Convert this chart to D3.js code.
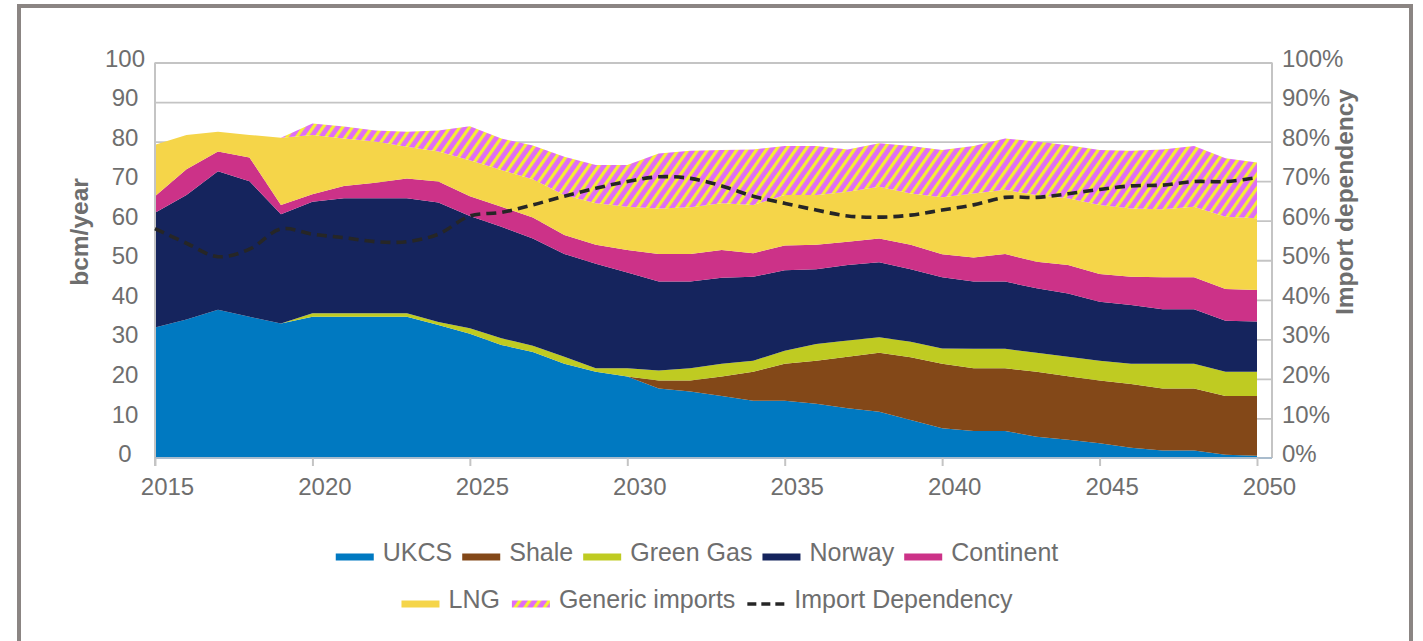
<!DOCTYPE html>
<html>
<head>
<meta charset="utf-8">
<script src="https://cdn.jsdelivr.net/npm/d3@7"></script>
<style>
  html, body { margin: 0; padding: 0; background: #ffffff; }
  svg { display: block; }
  text { font-family: "Liberation Sans", Arial, Helvetica, sans-serif; fill: #6e6e6e; }
</style>
</head>
<body>
<svg id="chart" width="1423" height="641"></svg>
<script>
// Gas supply by source, bcm/year, with import dependency (%)
const years = [2015, 2016, 2017, 2018, 2019, 2020, 2021, 2022, 2023, 2024,
               2025, 2026, 2027, 2028, 2029, 2030, 2031, 2032, 2033, 2034,
               2035, 2036, 2037, 2038, 2039, 2040, 2041, 2042, 2043, 2044,
               2045, 2046, 2047, 2048, 2049, 2050];

const ukcs = [33, 35, 37.5, 35.7, 34, 35.7, 35.7, 35.7, 35.7, 33.6,
              31.4, 28.6, 26.8, 23.8, 21.8, 20.6, 17.6, 16.8, 15.7, 14.5,
              14.5, 13.7, 12.6, 11.7, 9.6, 7.5, 6.8, 6.8, 5.4, 4.6,
              3.7, 2.6, 1.9, 1.9, 0.8, 0.6];

const shale = [0, 0, 0, 0, 0, 0, 0, 0, 0, 0,
               0, 0, 0, 0, 0, 0, 2, 2.8, 4.9, 7.3,
               9.3, 10.9, 13, 14.9, 15.9, 16.3, 15.9, 15.9, 16.4, 16.1,
               15.9, 16.1, 15.7, 15.7, 14.9, 15.1];

const greenGas = [0, 0, 0, 0, 0, 0.9, 0.9, 0.9, 0.9, 0.8,
                  1.4, 1.7, 1.6, 1.8, 0.9, 2.1, 2.5, 3.1, 3.2, 2.8,
                  3.3, 4.2, 4.1, 3.9, 3.9, 3.9, 4.9, 4.9, 4.8, 4.9,
                  5, 5.1, 6.2, 6.2, 6.1, 6.1];

const norway = [29, 31.5, 35, 34.3, 27.6, 28.2, 29.1, 29.1, 29.1, 30.2,
                28.4, 28.2, 27.1, 26, 26.4, 24.2, 22.5, 21.9, 21.8, 21.2,
                20.4, 18.9, 19.1, 19, 18.3, 18, 17, 17, 16.3, 16,
                14.9, 14.9, 13.8, 13.8, 12.9, 12.7];

const continent = [4.2, 6.5, 5, 6, 2.4, 1.9, 3.1, 3.9, 5, 5.3,
                   5, 5, 5.3, 4.8, 4.8, 5.7, 7, 7, 7, 6,
                   6.2, 6.2, 5.9, 6, 6.2, 5.8, 6.1, 7, 6.7, 7.2,
                   7, 7.1, 8.1, 8.1, 8, 8];

const lng = [13, 8.7, 5, 5.7, 17, 15, 12, 10.4, 8, 7.6,
             9.1, 9.3, 9.7, 10.1, 10.5, 10.9, 11.5, 11.8, 11.8, 12.2,
             12.8, 12.6, 12.6, 13.1, 13, 14.4, 16.2, 16.2, 16.9, 16.9,
             17.5, 17.3, 17.2, 17.8, 18.3, 18.1];

const genericImports = [0, 0, 0, 0, 0, 2.9, 3, 2.8, 3.8, 5.3,
                        8.6, 8, 8.5, 9.7, 9.7, 10.6, 13.9, 14.3, 13.5, 14,
                        12.4, 12.4, 10.7, 11, 12, 12, 12, 13, 13.5, 13.4,
                        13.9, 14.6, 15.1, 15.4, 14.8, 14.1];

const importDependency = [58, 54.3, 50.9, 52.8, 57.9, 56.6, 55.7, 54.7, 54.7, 56.6,
                          61.2, 62.1, 64, 66.2, 68.2, 69.9, 71.1, 70.7, 68.8, 66.2,
                          64.4, 62.7, 61.2, 60.9, 61.4, 62.7, 64, 65.9, 65.9, 66.8,
                          67.9, 68.8, 69, 69.9, 69.9, 70.9];

const seriesNames = ["UKCS", "Shale", "Green Gas", "Norway", "Continent", "LNG", "Generic imports"];
const seriesValues = [ukcs, shale, greenGas, norway, continent, lng, genericImports];
const seriesColors = ["#0079c1", "#834818", "#bfcb22", "#15245d", "#cc3288", "#f5d549", "url(#hatch)"];

const leftTicks = [0, 10, 20, 30, 40, 50, 60, 70, 80, 90, 100];
const rightTicks = [0, 10, 20, 30, 40, 50, 60, 70, 80, 90, 100];
const xTicks = [2015, 2020, 2025, 2030, 2035, 2040, 2045, 2050];

// ---- layout ----
const svg = d3.select("#chart");
const plotLeft = 155, plotRight = 1272, lastX = 1257, plotTop = 62.5, plotBottom = 458;
const grid = "#c4c4c4";

const x = d3.scaleLinear().domain([2015, 2050]).range([plotLeft, lastX]);
const y = d3.scaleLinear().domain([0, 100]).range([plotBottom, plotTop]);
const yPct = d3.scaleLinear().domain([0, 100]).range([plotBottom, plotTop]);

// hatch fill for generic imports
const defs = svg.append("defs");
const pat = defs.append("pattern")
  .attr("id", "hatch")
  .attr("patternUnits", "userSpaceOnUse")
  .attr("width", 8).attr("height", 8)
  .attr("patternTransform", "rotate(35)");
pat.append("rect").attr("width", 8).attr("height", 8).attr("fill", "#df6df6");
pat.append("rect").attr("width", 3.2).attr("height", 8).attr("fill", "#f5ee33");

// outer frame
svg.append("rect")
  .attr("x", 19).attr("y", 6).attr("width", 1392).attr("height", 700)
  .attr("fill", "#ffffff").attr("stroke", "#8b8583").attr("stroke-width", 4);

// horizontal gridlines (behind the areas)
svg.append("g")
  .attr("transform", `translate(${plotLeft},0)`)
  .call(d3.axisLeft(y).tickValues(leftTicks.filter(d => d > 0))
        .tickSize(-(plotRight - plotLeft)).tickFormat(""))
  .call(g => g.select(".domain").remove())
  .call(g => g.selectAll("line").attr("stroke", grid).attr("stroke-width", 1.8));

// stacked areas
const rows = years.map((yr, i) => {
  const r = { year: yr };
  seriesNames.forEach((n, k) => { r[n] = seriesValues[k][i]; });
  return r;
});
const stacked = d3.stack().keys(seriesNames)(rows);
const area = d3.area()
  .x(d => x(d.data.year))
  .y0(d => y(d[0]))
  .y1(d => y(d[1]));

svg.append("g").selectAll("path")
  .data(stacked)
  .join("path")
  .attr("d", area)
  .attr("fill", (d, i) => seriesColors[i]);

// plot frame lines
svg.append("line").attr("x1", plotLeft).attr("x2", plotLeft)
  .attr("y1", plotTop).attr("y2", plotBottom + 8)
  .attr("stroke", grid).attr("stroke-width", 2);
svg.append("line").attr("x1", plotRight).attr("x2", plotRight)
  .attr("y1", plotTop).attr("y2", plotBottom)
  .attr("stroke", grid).attr("stroke-width", 2);

// x axis
const xAxis = svg.append("g")
  .attr("transform", `translate(0,${plotBottom})`)
  .call(d3.axisBottom(x).tickValues(xTicks).tickSize(8).tickFormat(d3.format("d")));
xAxis.select(".domain").attr("d", `M${plotLeft},0H${plotRight}`)
  .attr("stroke", "#a9bccd").attr("stroke-width", 2);
xAxis.selectAll(".tick line").attr("stroke", grid).attr("stroke-width", 2);
xAxis.selectAll("text")
  .attr("x", 12).attr("y", 37).attr("dy", 0)
  .style("font-size", "24px").style("fill", "#6e6e6e");

// left axis labels
const yAxisL = svg.append("g")
  .attr("transform", `translate(${plotLeft},0)`)
  .call(d3.axisLeft(y).tickValues(leftTicks).tickSize(0));
yAxisL.select(".domain").remove();
yAxisL.selectAll("text")
  .attr("x", -30).attr("dy", "0.15em").attr("text-anchor", "middle")
  .style("font-size", "24px").style("fill", "#6e6e6e");

// right axis labels
const yAxisR = svg.append("g")
  .attr("transform", `translate(${plotRight},0)`)
  .call(d3.axisRight(yPct).tickValues(rightTicks).tickSize(0).tickPadding(10)
        .tickFormat(d => d + "%"));
yAxisR.select(".domain").remove();
yAxisR.selectAll("text")
  .attr("dy", "0.15em")
  .style("font-size", "24px").style("fill", "#6e6e6e");

// axis titles
svg.append("text")
  .attr("transform", "translate(88,232) rotate(-90)")
  .attr("text-anchor", "middle")
  .style("font-size", "24.5px").style("font-weight", "bold")
  .text("bcm/year");
svg.append("text")
  .attr("transform", "translate(1353,202) rotate(-90)")
  .attr("text-anchor", "middle")
  .style("font-size", "24.5px").style("font-weight", "bold")
  .text("Import dependency");

// import dependency line
const line = d3.line()
  .x((d, i) => x(years[i]))
  .y(d => yPct(d))
  .curve(d3.curveCatmullRom.alpha(0.5));
svg.append("path")
  .datum(importDependency)
  .attr("d", line)
  .attr("fill", "none")
  .attr("stroke", "#262626")
  .attr("stroke-width", 3.6)
  .attr("stroke-dasharray", "10 6");

// legend
const legendRows = [
  { center: 697, baseline: 561, gap: 10, items: [0, 1, 2, 3, 4] },
  { center: 707, baseline: 608, gap: 12, items: [5, 6, "line"] }
];
legendRows.forEach(row => {
  const g = svg.append("g");
  let cx = 0;
  row.items.forEach(it => {
    if (it === "line") {
      g.append("line")
        .attr("x1", cx).attr("x2", cx + 38)
        .attr("y1", row.baseline - 4).attr("y2", row.baseline - 4)
        .attr("stroke", "#262626").attr("stroke-width", 3.5)
        .attr("stroke-dasharray", "9 5");
    } else {
      g.append("rect")
        .attr("x", cx).attr("y", row.baseline - 7.5)
        .attr("width", 38).attr("height", 7)
        .attr("fill", seriesColors[it]);
    }
    const t = g.append("text")
      .attr("x", cx + 47).attr("y", row.baseline)
      .style("font-size", "25px")
      .text(it === "line" ? "Import Dependency" : seriesNames[it]);
    cx += 47 + t.node().getComputedTextLength() + row.gap;
  });
  const total = cx - row.gap;
  g.attr("transform", `translate(${row.center - total / 2},0)`);
});
</script>
</body>
</html>
